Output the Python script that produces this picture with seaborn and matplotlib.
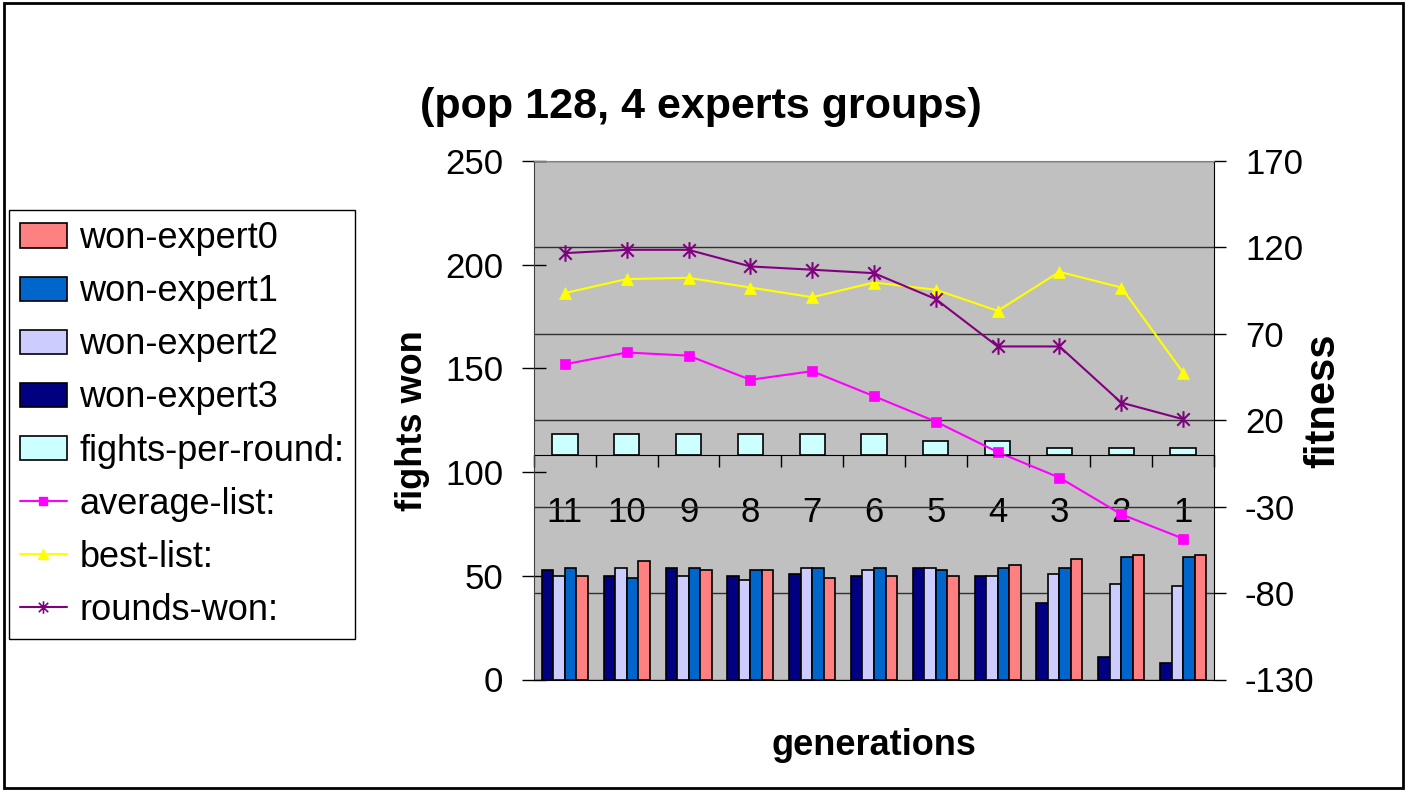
import numpy as np
import pandas as pd
import matplotlib
matplotlib.use("Agg")
import matplotlib.pyplot as plt
import seaborn as sns
from matplotlib.path import Path
from matplotlib.patches import Patch, Rectangle
from matplotlib.lines import Line2D
from matplotlib.ticker import FixedLocator

# ---------------- data ----------------
generations = ['11', '10', '9', '8', '7', '6', '5', '4', '3', '2', '1']
won_expert0 = [50, 57, 53, 53, 49, 50, 50, 55, 58, 60, 60]
won_expert1 = [54, 49, 54, 53, 54, 54, 53, 54, 54, 59, 59]
won_expert2 = [50, 54, 50, 48, 54, 53, 54, 50, 51, 46, 45]
won_expert3 = [53, 50, 54, 50, 51, 50, 54, 50, 37, 11, 8]
fights_per_round = [12, 12, 12, 12, 12, 12, 8, 8, 4, 4, 4]
average_list = [52.4, 59.2, 57.4, 43.4, 48.4, 33.9, 19.2, 1.6, -13.2, -34.4, -48.5]
best_list = [93.6, 101.7, 102.4, 96.8, 91.2, 99.7, 95.5, 83.3, 105.9, 96.8, 47.6]
rounds_won = [116.7, 118.6, 118.6, 109.0, 107.1, 105.1, 90.1, 62.7, 62.7, 30.2, 20.6]

left_ticks = [0, 50, 100, 150, 200, 250]
right_ticks = [-130, -80, -30, 20, 70, 120, 170]

expert_names = ['won-expert0', 'won-expert1', 'won-expert2', 'won-expert3']
expert_colors = {'won-expert0': '#FF8080', 'won-expert1': '#0066CC',
                 'won-expert2': '#CCCCFF', 'won-expert3': '#000080'}
fights_color = '#CCFFFF'
avg_color = '#FF00FF'
best_color = '#FFFF00'
rounds_color = '#800080'

# ---------------- style ----------------
sns.set_style("white")
plt.rcParams['font.family'] = ['Liberation Sans', 'DejaVu Sans']
plt.rcParams['axes.unicode_minus'] = False
plt.rcParams['text.color'] = 'black'
plt.rcParams['axes.labelcolor'] = 'black'
plt.rcParams['xtick.color'] = 'black'
plt.rcParams['ytick.color'] = 'black'

long = pd.DataFrame({
    'generation': generations * 4,
    'expert': sum([[n] * len(generations) for n in expert_names], []),
    'won': won_expert0 + won_expert1 + won_expert2 + won_expert3,
})

fig = plt.figure(figsize=(14.08, 7.91), dpi=100)
ax = fig.add_axes([534 / 1408, 1 - 679.5 / 791, 680 / 1408, 518.5 / 791])
ax2 = ax.twinx()
ax.set_zorder(ax2.get_zorder() + 1)
ax.patch.set_visible(False)
ax2.patch.set_visible(True)
ax2.patch.set_facecolor('#C0C0C0')

# secondary (fitness) axis: fights-per-round bars + lines
sns.barplot(x=generations, y=fights_per_round, order=generations, ax=ax2,
            color=fights_color, saturation=1, width=0.41, edgecolor='black',
            linewidth=1.2, errorbar=None)

star = Path([(0, -1), (0, 1), (-0.75, -0.75), (0.75, 0.75), (-0.75, 0.75), (0.75, -0.75)],
            [Path.MOVETO, Path.LINETO] * 3)

sns.pointplot(x=generations, y=average_list, order=generations, ax=ax2, color=avg_color,
              marker='s', markersize=7, linewidth=1.5, markeredgewidth=0.5, errorbar=None)
sns.pointplot(x=generations, y=best_list, order=generations, ax=ax2, color=best_color,
              marker='^', markersize=9, linewidth=1.5, markeredgewidth=0.5, errorbar=None)
sns.pointplot(x=generations, y=rounds_won, order=generations, ax=ax2, color=rounds_color,
              marker=star, markersize=12, linewidth=1.5, markeredgewidth=1.5,
              markeredgecolor=rounds_color, errorbar=None)

# primary axis: experts bars
sns.barplot(data=long, x='generation', y='won', hue='expert', order=generations,
            hue_order=['won-expert3', 'won-expert2', 'won-expert1', 'won-expert0'],
            palette=expert_colors, saturation=1, width=0.745, gap=0,
            edgecolor='black', linewidth=1.2, errorbar=None, legend=False, ax=ax)

# ---------------- axes ----------------
n = len(generations)
ax.set_xlim(-0.5, n - 0.5)
ax.set_ylim(left_ticks[0], left_ticks[-1])
ax.set_yticks(left_ticks)
ax2.set_ylim(right_ticks[0], right_ticks[-1])
ax2.set_yticks(right_ticks)

ax2.grid(False)
ax2.yaxis.grid(True, color='#303030', linewidth=1)
ax2.set_axisbelow(True)
ax.grid(False)

ax.tick_params(axis='y', direction='inout', length=17, width=1, pad=13.7,
               labelsize=25, colors='black', left=True)
ax2.tick_params(axis='y', direction='out', length=8.6, width=1, pad=13.7,
                labelsize=25, colors='black', right=True)

# category axis drawn at fitness 0
ax2.xaxis.set_visible(True)
ax2.set_xticks(range(n))
ax2.set_xticklabels(generations)
ax2.xaxis.set_minor_locator(FixedLocator(np.arange(n + 1) - 0.5))
ax2.spines['bottom'].set_visible(True)
ax2.spines['bottom'].set_position(('data', 0))
ax2.spines['bottom'].set_color('black')
ax2.tick_params(axis='x', which='major', length=0, pad=30, labelsize=25, bottom=True,
                labelbottom=True, top=False, labeltop=False, colors='black')
ax2.tick_params(axis='x', which='minor', length=8.6, width=1, direction='out',
                color='black', bottom=True, top=False)
ax.tick_params(axis='x', which='both', bottom=False, labelbottom=False, top=False)

for s in ['left', 'top']:
    ax2.spines[s].set_visible(False)
ax2.spines['right'].set_color('black')
ax.spines['right'].set_visible(False)
ax.spines['left'].set_color('#404040')
ax.spines['bottom'].set_color('black')
ax.spines['top'].set_color('#808080')

ax2.set_xlabel('')
ax.set_xlabel('generations', fontsize=26, fontweight='bold', color='black')
ax.xaxis.set_label_coords(0.5, -0.093)
ax.set_ylabel('fights won', fontsize=26, fontweight='bold', color='black')
ax.yaxis.set_label_coords(-0.153, 0.5)
ax2.set_ylabel('fitness', fontsize=30, fontweight='bold', rotation=90, color='black')
ax2.yaxis.set_label_coords(1.131, 0.537)

fig.text(701 / 1408, 1 - 107 / 791, '(pop 128, 4 experts groups)', ha='center',
         va='center', fontsize=31, fontweight='bold', color='black')

# ---------------- legend ----------------
handles = [Patch(facecolor=expert_colors[nm], edgecolor='black', linewidth=1.2)
           for nm in expert_names]
handles.append(Patch(facecolor=fights_color, edgecolor='black', linewidth=1.2))
handles.append(Line2D([], [], color=avg_color, marker='s', markersize=6, lw=1.5))
handles.append(Line2D([], [], color=best_color, marker='^', markersize=7, lw=1.5))
handles.append(Line2D([], [], color=rounds_color, marker=star, markersize=9, lw=1.5,
                      markeredgewidth=1.2))
labels = expert_names + ['fights-per-round:', 'average-list:', 'best-list:', 'rounds-won:']
leg = fig.legend(handles, labels, loc='upper left',
                 bbox_to_anchor=(9 / 1408, 1 - 210.5 / 791), fontsize=26,
                 frameon=True, fancybox=False, edgecolor='black', framealpha=1,
                 borderpad=0.3, labelspacing=0.5, handlelength=1.3, handleheight=0.66,
                 handletextpad=0.35, borderaxespad=0)
leg.get_frame().set_linewidth(1)
for t in leg.get_texts():
    t.set_color('black')

fig.patches.append(Rectangle((3.5 / 1408, 3 / 791), 1399 / 1408, 785 / 791,
                             transform=fig.transFigure, fill=False,
                             edgecolor='black', linewidth=2))

fig.savefig('out.png', dpi=100)
